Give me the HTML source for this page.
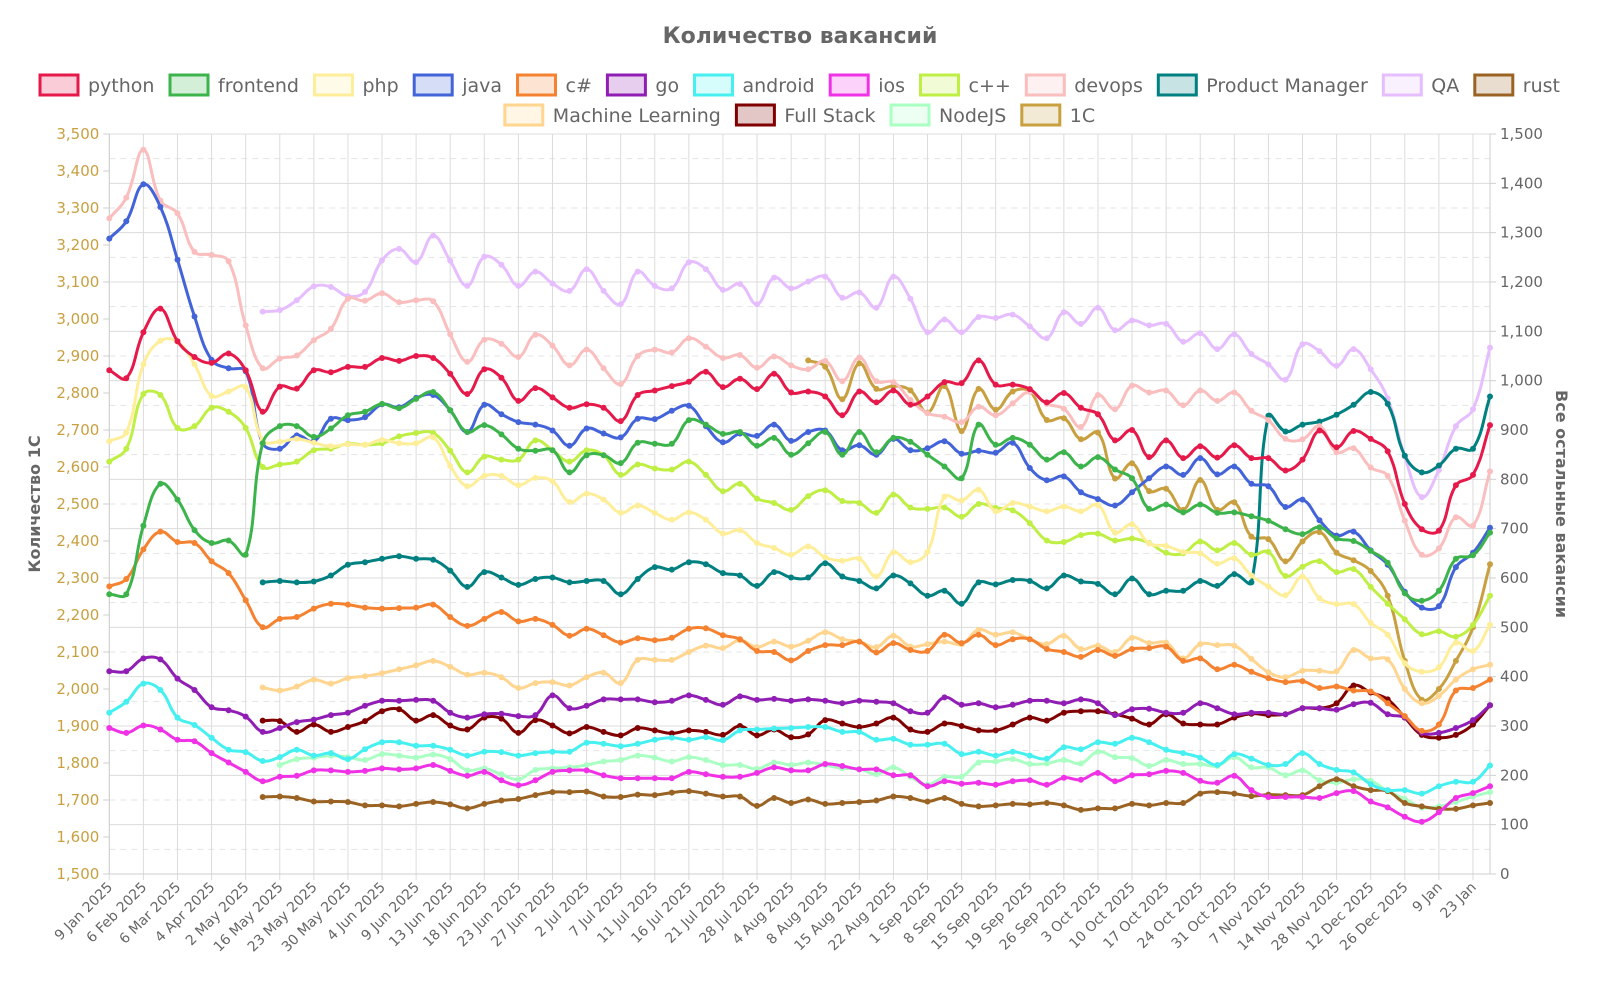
<!DOCTYPE html>
<html><head><meta charset="utf-8"><style>
html,body{margin:0;padding:0;background:#fff;}
svg{display:block;font-family:"DejaVu Sans","Liberation Sans",sans-serif;}
</style></head><body>
<svg id="chart" width="1600" height="1000" viewBox="0 0 1600 1000" xmlns="http://www.w3.org/2000/svg">
<text x="800" y="43" text-anchor="middle" font-size="22" font-weight="bold" fill="#666">Количество вакансий</text>
<g id="grid"></g>
<g id="axes"></g>
<g id="series"></g>
<g id="legend"></g>
<text transform="translate(40,504) rotate(-90)" text-anchor="middle" font-size="16" font-weight="bold" fill="#666">Количество 1С</text>
<text transform="translate(1556,504) rotate(90)" text-anchor="middle" font-size="16" font-weight="bold" fill="#666">Все остальные вакансии</text>
</svg>
<script>
const xLabels = ["9 Jan 2025","6 Feb 2025","6 Mar 2025","4 Apr 2025","2 May 2025","16 May 2025","23 May 2025","30 May 2025","4 Jun 2025","9 Jun 2025","13 Jun 2025","18 Jun 2025","23 Jun 2025","27 Jun 2025","2 Jul 2025","7 Jul 2025","11 Jul 2025","16 Jul 2025","21 Jul 2025","28 Jul 2025","4 Aug 2025","8 Aug 2025","15 Aug 2025","22 Aug 2025","1 Sep 2025","8 Sep 2025","15 Sep 2025","19 Sep 2025","26 Sep 2025","3 Oct 2025","10 Oct 2025","17 Oct 2025","24 Oct 2025","31 Oct 2025","7 Nov 2025","14 Nov 2025","28 Nov 2025","12 Dec 2025","26 Dec 2025","9 Jan","23 Jan"];
const leftTicks = [1500,1600,1700,1800,1900,2000,2100,2200,2300,2400,2500,2600,2700,2800,2900,3000,3100,3200,3300,3400,3500];
const rightTicks = [0,100,200,300,400,500,600,700,800,900,1000,1100,1200,1300,1400,1500];
const seriesNames = ["python","frontend","php","java","c#","go","android","ios","c++","devops","Product Manager","QA","rust","Machine Learning","Full Stack","NodeJS","1C"];
const seriesColors = ["#e6194b","#3cb44b","#ffee99","#4363d8","#f58231","#911eb4","#46f0f0","#f032e6","#bfef45","#fabebe","#008080","#e6beff","#9a6324","#ffd58f","#800000","#aaffc3","#c8a040"];
const python = [1021,1005,1098,1146,1080,1048,1036,1055,1021,937,988,984,1021,1017,1028,1028,1046,1040,1050,1046,1014,973,1023,1006,959,985,966,945,952,945,918,971,980,989,998,1018,987,1004,983,1014,976,978,968,930,978,956,980,951,968,997,995,1041,992,992,983,956,975,945,932,879,900,845,879,843,867,844,869,843,843,818,840,899,865,898,882,857,750,699,696,788,809,910];
const frontend = [567,567,706,791,759,697,671,676,647,873,908,908,886,903,930,937,953,944,963,977,940,896,910,891,862,858,859,814,849,849,833,874,872,872,920,911,892,896,868,884,850,873,896,850,896,855,884,876,850,826,802,911,870,884,870,840,855,826,845,820,802,740,749,733,749,732,733,725,716,699,689,703,680,675,655,631,569,554,574,639,646,692];
const php = [877,895,1033,1081,1079,1033,969,978,987,879,876,882,874,867,871,870,880,873,873,885,827,786,807,807,788,803,796,754,771,759,732,747,732,718,733,718,690,697,671,661,647,664,642,635,639,603,652,632,653,765,757,779,735,752,745,735,745,735,748,692,709,670,665,653,650,629,640,605,583,565,603,559,547,547,509,485,427,410,419,469,452,505];
const java = [1288,1323,1398,1352,1245,1130,1042,1025,1019,873,862,889,877,923,920,926,952,946,965,971,940,896,951,932,916,911,899,868,903,893,885,923,922,939,949,908,875,893,888,911,878,896,899,859,869,850,882,859,863,877,852,858,854,874,823,798,806,774,760,747,774,802,826,809,843,810,826,791,786,744,759,717,686,694,656,627,572,540,543,622,651,702];
const csharp = [583,598,658,694,673,671,634,610,555,500,517,521,538,548,546,540,538,539,540,546,521,503,517,531,512,517,505,483,497,484,469,478,474,479,497,498,484,476,452,450,433,452,464,464,471,449,468,454,452,485,468,485,464,476,476,456,450,440,454,442,456,458,461,432,437,415,424,410,397,389,391,377,380,372,370,346,320,290,303,372,377,394];
const go = [411,411,437,435,396,373,338,332,319,288,296,308,313,322,327,341,351,351,353,351,327,317,324,325,320,322,362,336,341,354,354,354,348,351,362,353,343,360,353,355,351,354,351,346,351,349,346,330,327,358,343,346,338,343,351,351,346,354,346,322,334,335,327,327,346,336,324,327,327,324,336,336,333,344,347,324,317,286,286,296,312,342];
const android = [327,349,386,373,317,302,276,252,247,229,237,252,240,245,233,253,267,267,260,260,252,240,248,247,240,245,248,248,266,264,259,264,272,276,272,277,271,291,293,295,296,298,298,288,288,272,274,262,262,264,243,248,240,248,240,234,257,253,267,264,276,267,252,245,236,221,243,234,221,223,245,223,211,206,182,170,170,163,178,187,187,220];
const ios = [296,286,301,293,272,269,245,226,207,188,197,199,210,210,207,209,214,212,214,221,209,199,207,190,180,190,207,210,210,200,194,194,194,194,207,202,197,197,205,216,210,210,223,219,212,212,200,200,178,188,183,185,181,188,190,181,195,191,205,188,200,202,209,205,189,185,199,170,156,156,156,154,164,168,147,135,116,106,125,154,164,178];
const cpp = [836,862,973,971,904,908,945,937,904,825,830,836,859,862,872,870,873,887,894,894,858,814,846,840,840,879,859,836,859,849,809,830,822,820,836,809,776,791,761,752,738,766,778,756,752,732,769,743,740,743,724,750,742,737,711,676,673,687,690,676,680,671,651,650,674,656,671,647,653,604,623,634,612,618,582,548,516,486,492,481,505,564];
const devops = [1329,1371,1468,1365,1339,1261,1255,1242,1112,1025,1045,1051,1082,1105,1166,1162,1177,1159,1163,1161,1094,1038,1083,1075,1048,1093,1071,1031,1063,1025,993,1050,1063,1057,1086,1069,1046,1052,1026,1049,1031,1023,1040,999,1047,999,997,961,934,927,916,947,930,954,977,953,943,906,971,942,990,976,980,950,980,959,976,939,920,882,881,908,855,863,824,807,716,647,660,723,706,816];
const productManager = [null,null,null,null,null,null,null,null,null,591,594,591,593,605,627,632,639,644,639,637,615,582,612,601,586,598,601,591,594,594,567,598,622,617,632,628,610,605,584,612,601,601,630,603,594,579,605,589,564,574,548,591,587,596,594,579,605,593,588,567,599,567,574,574,594,584,608,591,929,897,911,917,931,951,977,953,848,814,828,862,862,968];
const qa = [null,null,null,null,null,null,null,null,null,1140,1143,1163,1191,1190,1171,1180,1244,1267,1240,1294,1243,1192,1251,1235,1192,1221,1197,1182,1226,1182,1155,1221,1192,1187,1240,1226,1184,1196,1155,1209,1187,1201,1211,1168,1179,1148,1211,1166,1098,1124,1098,1129,1127,1134,1110,1086,1139,1115,1148,1102,1122,1112,1115,1079,1096,1064,1094,1054,1033,1002,1074,1060,1030,1064,1023,964,846,764,819,908,942,1067];
const rust = [null,null,null,null,null,null,null,null,null,156,157,154,147,147,146,139,139,137,142,146,141,133,142,149,152,160,166,166,167,157,156,161,160,165,168,163,157,157,138,154,144,151,142,144,146,149,157,154,147,154,142,137,139,142,141,144,139,130,133,133,142,139,144,144,163,166,163,158,161,160,160,178,192,178,170,168,144,137,132,132,139,144];
const machineLearning = [null,null,null,null,null,null,null,null,null,378,372,380,394,386,397,401,407,415,423,432,420,404,408,399,377,387,389,382,399,408,387,434,434,434,450,463,458,474,460,471,461,473,490,476,471,460,483,461,466,471,466,495,485,490,476,466,483,456,463,450,479,468,469,437,466,464,463,436,409,399,412,412,411,454,437,435,375,346,361,394,415,424];
const fullStack = [null,null,null,null,null,null,null,null,null,311,310,288,303,288,298,310,330,334,311,322,301,293,317,315,286,312,301,285,298,288,281,296,291,285,291,288,282,300,281,293,277,283,312,305,298,305,317,293,288,305,300,291,291,303,317,311,327,330,330,324,315,303,324,305,303,303,317,325,322,324,336,336,346,382,368,354,317,282,276,282,303,342];
const nodejs = [null,null,null,null,null,null,null,null,null,null,221,233,236,240,237,231,243,240,236,242,233,210,214,202,192,211,214,216,221,228,231,240,236,228,237,231,221,221,213,226,221,226,221,214,213,202,216,197,181,197,197,226,228,233,223,224,231,224,248,237,235,219,231,223,223,219,237,216,216,200,210,190,185,192,189,168,152,135,137,146,157,166];
const oneC = [null,null,null,null,null,null,null,null,null,null,null,null,null,null,null,null,null,null,null,null,null,null,null,null,null,null,null,null,null,null,null,null,null,null,null,null,null,null,null,null,null,2888,2871,2783,2880,2811,2819,2807,2747,2819,2697,2811,2755,2804,2804,2727,2732,2675,2693,2569,2610,2535,2541,2484,2565,2484,2505,2412,2405,2345,2399,2424,2368,2348,2319,2252,2076,1971,2000,2076,2167,2337];

const NS = "http://www.w3.org/2000/svg";
const PL = 109.3, PR = 1490, PT = 134, PB = 874;
const N_POINTS = python.length;
function xScale(i){ return PL + i*(PR-PL)/(N_POINTS-1); }
function yRight(v){ return PB - (v-0)/(1500-0)*(PB-PT); }
function yLeft(v){ return PB - (v-1500)/(3500-1500)*(PB-PT); }
function mk(tag, attrs, parent){ const e=document.createElementNS(NS,tag); for(const k in attrs) e.setAttribute(k, attrs[k]); if(parent) parent.appendChild(e); return e; }

const grid = document.getElementById('grid');
const axes = document.getElementById('axes');
for (let v=0; v<=1500; v+=50){
  const y = yRight(v);
  const ln = mk('line',{x1:PL,x2:PR,y1:y,y2:y,stroke: v%100===0 ? '#dcdcdc' : '#e4e4e4','stroke-width':1,'stroke-dasharray': v%100===0 ? 'none':'6,5'},grid);
  
  
}
xLabels.forEach((lab, k) => {
  const x = xScale(k*2);
  const ln = mk('line',{x1:x,x2:x,y1:PT,y2:PB+6,stroke:'#dcdcdc','stroke-width':1},grid);
  
  
  const t = mk('text',{transform:`translate(${x+4},${PB+14}) rotate(-45)`,'text-anchor':'end','font-size':14,fill:'#666'},axes);
  t.textContent = lab;
  
  
});
const ax1 = mk('line',{x1:PL,x2:PL,y1:PT,y2:PB,stroke:'#cfcfcf','stroke-width':1},axes);


const ax2 = mk('line',{x1:PR,x2:PR,y1:PT,y2:PB,stroke:'#cfcfcf','stroke-width':1},axes);


const ax3 = mk('line',{x1:PL,x2:PR,y1:PB,y2:PB,stroke:'#cfcfcf','stroke-width':1},axes);


leftTicks.forEach(v => {
  const y = yLeft(v);
  const tk = mk('line',{x1:PL-6,x2:PL,y1:y,y2:y,stroke:'#cfcfcf'},axes);
  
  
  const t = mk('text',{x:PL-10,y:y+5,'text-anchor':'end','font-size':15,fill:'#c8a040'},axes);
  t.textContent = v.toLocaleString('en-US');
  
  
});
rightTicks.forEach(v => {
  const y = yRight(v);
  const tk = mk('line',{x1:PR,x2:PR+6,y1:y,y2:y,stroke:'#cfcfcf'},axes);
  
  
  const t = mk('text',{x:PR+10,y:y+5,'text-anchor':'start','font-size':15,fill:'#666'},axes);
  t.textContent = v.toLocaleString('en-US');
  
  
});

const seriesData = [python,frontend,php,java,csharp,go,android,ios,cpp,devops,productManager,qa,rust,machineLearning,fullStack,nodejs,oneC];
function smoothPath(pts){
  let d = '';
  let seg = [];
  const segs = [];
  pts.forEach(p => { if(p){ seg.push(p);} else { if(seg.length) segs.push(seg); seg=[]; } });
  if(seg.length) segs.push(seg);
  const t = 0.4;
  segs.forEach(s => {
    d += `M${s[0][0].toFixed(1)},${s[0][1].toFixed(1)}`;
    const cps = s.map((p,i) => {
      const p0 = s[i-1]||p, p2 = s[i+1]||p;
      const d01 = Math.hypot(p[0]-p0[0],p[1]-p0[1]), d12 = Math.hypot(p2[0]-p[0],p2[1]-p[1]);
      const tot = d01+d12 || 1;
      const fa = t*d01/tot, fb = t*d12/tot;
      return {prev:[p[0]-fa*(p2[0]-p0[0]), p[1]-fa*(p2[1]-p0[1])], next:[p[0]+fb*(p2[0]-p0[0]), p[1]+fb*(p2[1]-p0[1])]};
    });
    for(let i=1;i<s.length;i++){
      const c1 = cps[i-1].next, c2 = cps[i].prev;
      d += `C${c1[0].toFixed(1)},${c1[1].toFixed(1)} ${c2[0].toFixed(1)},${c2[1].toFixed(1)} ${s[i][0].toFixed(1)},${s[i][1].toFixed(1)}`;
    }
  });
  return d;
}
const layer = document.getElementById('series');
for (let si = seriesData.length-1; si >= 0; si--){
  const data = seriesData[si];
  const yf = (seriesNames[si] === '1C') ? yLeft : yRight;
  const color = seriesColors[si];
  const g = mk('g',{},layer);
  
  
  const pts = data.map((v,i) => v===null ? null : [xScale(i), yf(v)]);
  const path = mk('path',{d:smoothPath(pts),fill:'none',stroke:color,'stroke-width':3,'stroke-linejoin':'round'},g);
  
  
  pts.forEach(p => {
    if(!p) return;
    const c = mk('circle',{cx:p[0].toFixed(1),cy:p[1].toFixed(1),r:3,fill:color},g);
    
    
  });
}

const legend = document.getElementById('legend');
const rows = [seriesNames.slice(0,13), seriesNames.slice(13)];
const rowY = [85, 115];
rows.forEach((row, ri) => {
  const items = row.map(name => {
    const si = seriesNames.indexOf(name);
    const g = mk('g',{},legend);
    
    
    const r = mk('rect',{x:0,y:-10,width:38,height:20,fill:seriesColors[si],'fill-opacity':0.22,stroke:seriesColors[si],'stroke-width':3},g);
    
    
    const t = mk('text',{x:48,y:7,'font-size':19,fill:'#666'},g);
    t.textContent = name;
    
    
    return {g, w: 48 + t.getComputedTextLength()};
  });
  const gap = 15.5;
  const total = items.reduce((a,b)=>a+b.w,0) + gap*(items.length-1);
  let x = 800 - total/2;
  items.forEach(it => { it.g.setAttribute('transform',`translate(${x.toFixed(1)},${rowY[ri]})`); x += it.w + gap; });
});
</script>
</body></html>
